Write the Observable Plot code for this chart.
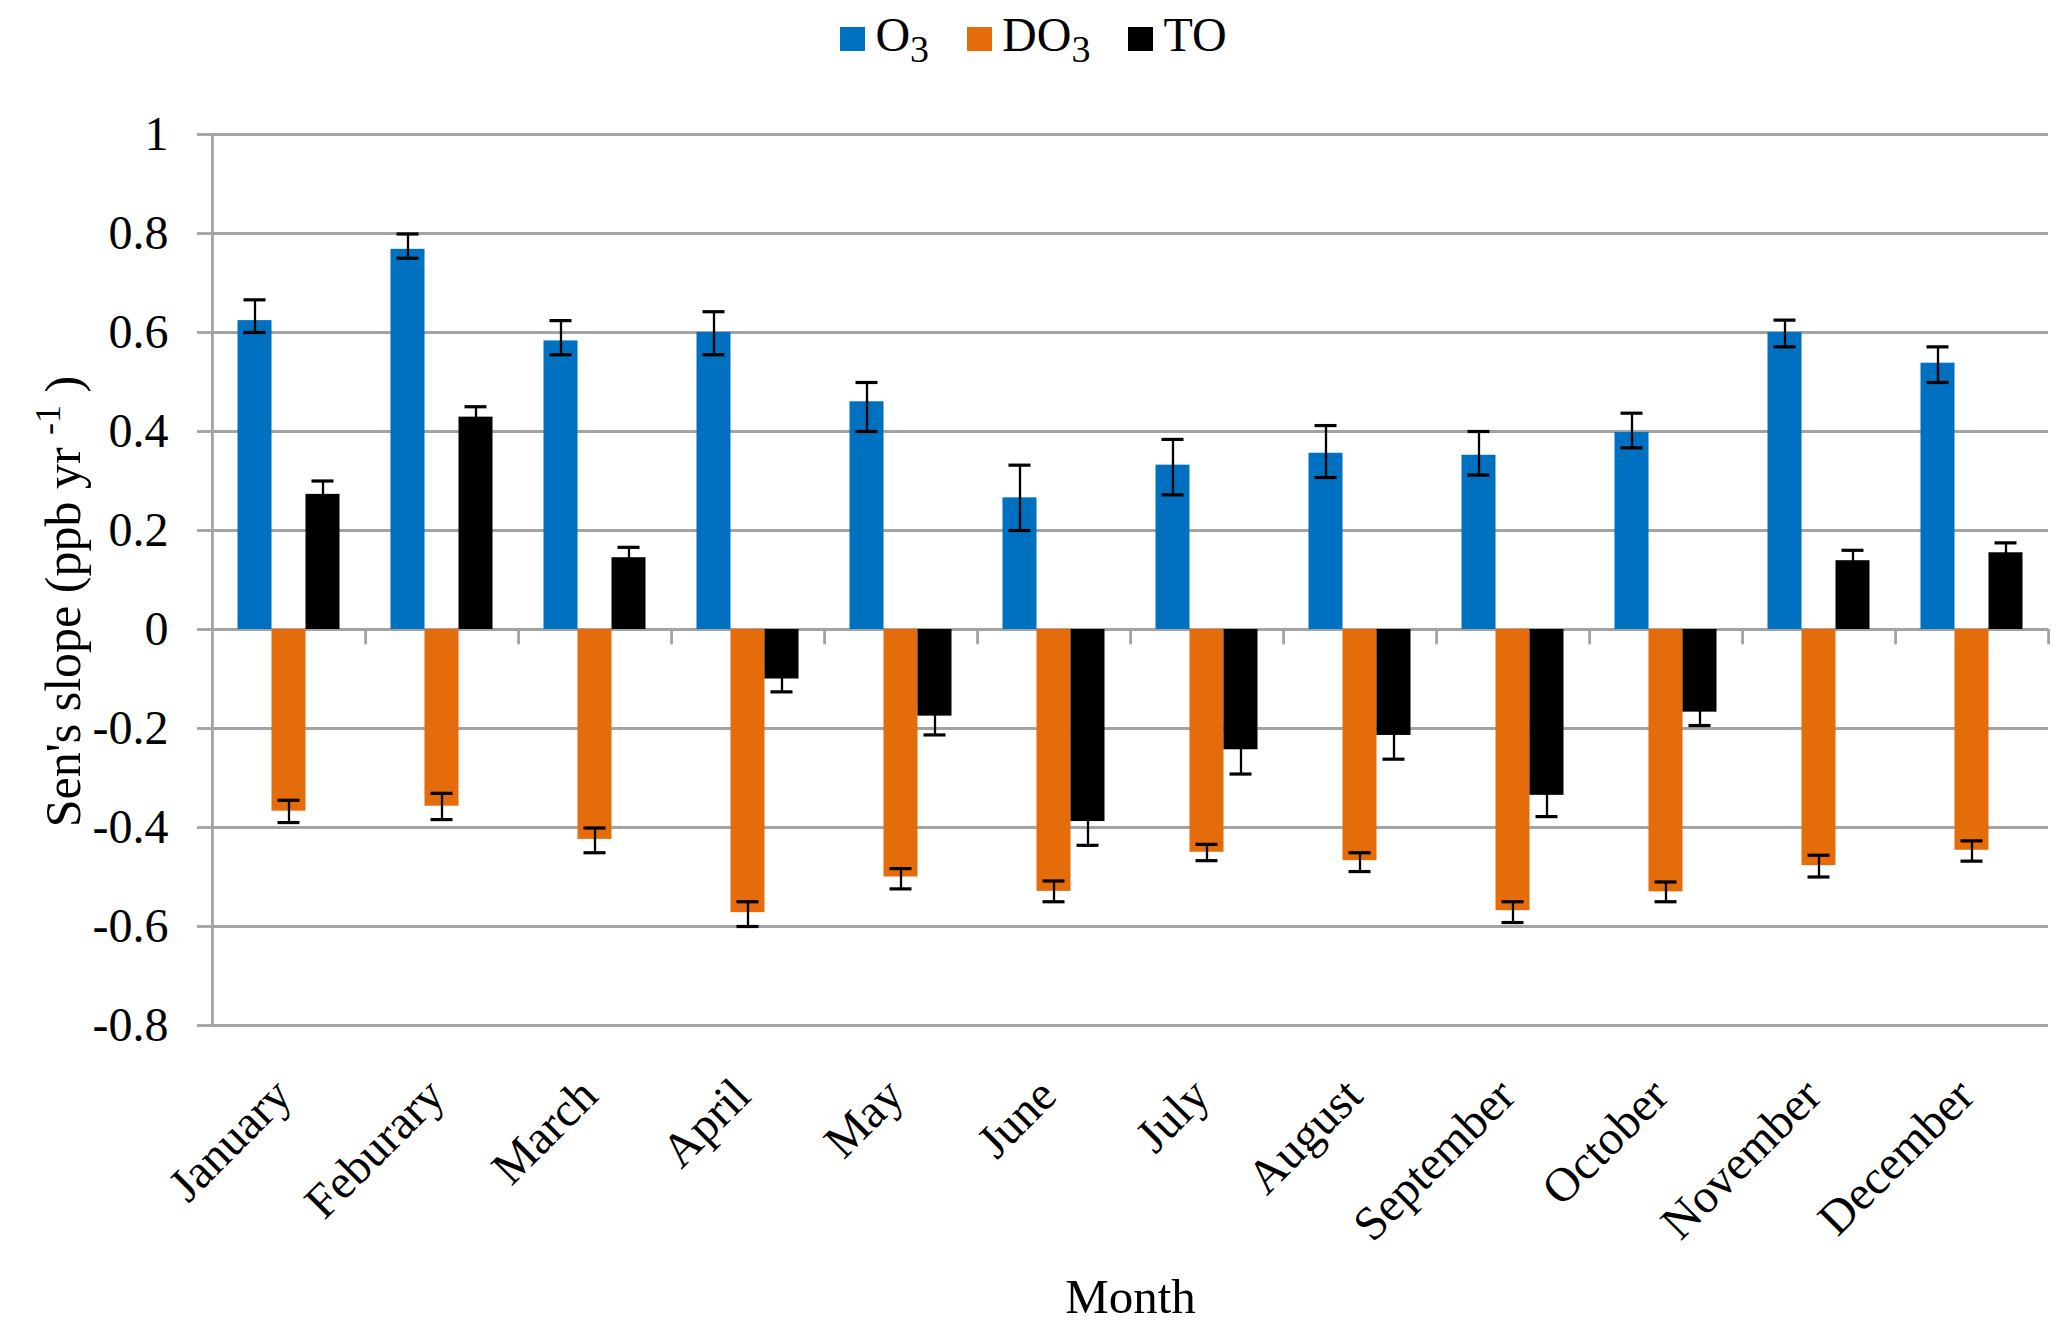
<!DOCTYPE html>
<html><head><meta charset="utf-8">
<script src="https://cdn.jsdelivr.net/npm/d3@7"></script>
<script src="https://cdn.jsdelivr.net/npm/@observablehq/plot@0.6"></script>
<style>
html,body{margin:0;padding:0;background:#fff;}
body{font-family:"Liberation Serif","Times New Roman",serif;color:#000;width:2067px;}
#legend{height:80px;box-sizing:border-box;padding-top:11px;text-align:center;font-size:48px;line-height:48px;white-space:nowrap;}
.item{display:inline-block;margin:0 19px;}
.sw{display:inline-block;width:25px;height:24px;margin-right:10px;vertical-align:baseline;}
.sub{font-size:38px;position:relative;top:11px;line-height:0;}
#chart svg{display:block;}
</style></head><body>
<div id="legend"></div>
<div id="chart"></div>
<script>
// ---- data ----
const months = ["January","Feburary","March","April","May","June","July","August","September","October","November","December"];
const series = ["O3","DO3","TO"];
const seriesColors = ["#0070C0","#E46C0A","#000000"];

const o3      = [0.624, 0.768, 0.583, 0.600, 0.460, 0.266, 0.332, 0.356, 0.352, 0.398, 0.600, 0.538];
const o3Plus  = [0.042, 0.031, 0.041, 0.042, 0.039, 0.066, 0.052, 0.056, 0.048, 0.039, 0.025, 0.033];
const o3Minus = [0.024, 0.018, 0.028, 0.045, 0.060, 0.066, 0.060, 0.049, 0.040, 0.031, 0.029, 0.039];

const do3      = [-0.367, -0.357, -0.424, -0.572, -0.500, -0.529, -0.450, -0.467, -0.568, -0.530, -0.477, -0.446];
const do3Plus  = [0.022, 0.026, 0.023, 0.022, 0.017, 0.021, 0.016, 0.016, 0.018, 0.020, 0.021, 0.019];
const do3Minus = [0.023, 0.027, 0.027, 0.028, 0.024, 0.021, 0.017, 0.022, 0.024, 0.020, 0.023, 0.022];

const to    = [0.273, 0.429, 0.145, -0.100, -0.175, -0.388, -0.243, -0.214, -0.335, -0.167, 0.139, 0.155];
const toErr = [0.027, 0.021, 0.021, 0.026, 0.038, 0.048, 0.049, 0.048, 0.043, 0.027, 0.021, 0.020];

const yTicks = [-0.8, -0.6, -0.4, -0.2, 0, 0.2, 0.4, 0.6, 0.8, 1];

// ---- table ----
const rows = months.flatMap((m, i) => [
  {month: m, series: "O3",  value: o3[i],  lo: o3[i] - o3Minus[i],   hi: o3[i] + o3Plus[i]},
  {month: m, series: "DO3", value: do3[i], lo: do3[i] - do3Minus[i], hi: do3[i] + do3Plus[i]},
  {month: m, series: "TO",  value: to[i],  lo: to[i] - toErr[i],     hi: to[i] + toErr[i]}
]);

// ---- legend ----
const legendHTML = {O3: 'O<span class="sub">3</span>', DO3: 'DO<span class="sub">3</span>', TO: 'TO'};
document.getElementById("legend").innerHTML = series.map((s, i) =>
  `<span class="item"><span class="sw" style="background:${seriesColors[i]}"></span>${legendHTML[s]}</span>`).join("");

// ---- layout ----
const W = 2067, H = 1253;
const mL = 210, mR = 17, mT = 54, mB = 308;
const facetW = (W - mL - mR) / months.length;
const xPadOuter = 0.75;
const bw = facetW / (series.length + 2 * xPadOuter);
const edge = bw * (0.5 + xPadOuter);
const grid = "#a3a3a3";
const font = "Liberation Serif";

const plot = Plot.plot({
  width: W, height: H,
  marginLeft: mL, marginRight: mR, marginTop: mT, marginBottom: mB,
  style: {fontFamily: font, fontSize: "48px", color: "black", background: "white"},
  fx: {domain: months, padding: 0, label: null},
  x: {domain: series, paddingInner: 0, paddingOuter: xPadOuter, round: false, axis: null},
  y: {domain: [-0.8, 1], label: null},
  color: {domain: series, range: seriesColors},
  marks: [
    Plot.gridY(yTicks, {stroke: grid, strokeOpacity: 1, strokeWidth: 2.8}),
    Plot.axisY({ticks: yTicks, tickSize: 15, tickPadding: 29, stroke: grid, strokeWidth: 2.8, fill: "black",
      fontSize: 48, label: null, tickFormat: d => String(+d.toFixed(1))}),
    // left axis line
    Plot.ruleX([months[0]], {fx: d => d, x: () => series[0], dx: -edge, y1: -0.8, y2: 1, stroke: grid, strokeWidth: 2.8}),
    // category separator ticks below the zero line
    Plot.ruleX(months, {fx: d => d, x: () => series[series.length - 1], dx: edge, y1: 0, y2: -0.031, stroke: grid, strokeWidth: 2.8}),
    Plot.barY(rows, {fx: "month", x: "series", y: "value", fill: "series"}),
    Plot.ruleX(rows, {fx: "month", x: "series", y1: "lo", y2: "hi", stroke: "black", strokeWidth: 2.3}),
    Plot.tickY(rows, {fx: "month", x: "series", y: "lo", stroke: "black", strokeWidth: 3.2, insetLeft: 6, insetRight: 6}),
    Plot.tickY(rows, {fx: "month", x: "series", y: "hi", stroke: "black", strokeWidth: 3.2, insetLeft: 6, insetRight: 6}),
    Plot.axisFx({anchor: "bottom", tickRotate: -45, tickSize: 0, tickPadding: 62, dx: -6, fontSize: 48, fill: "black",
      label: null}),
    Plot.axisFx({anchor: "bottom", ticks: [], tickSize: 0, fontSize: 49, fill: "black",
      label: "Month", labelAnchor: "center", labelOffset: 287, labelArrow: "none"})
  ]
});
document.getElementById("chart").appendChild(plot);

// y-axis title with superscript
const ys = plot.scale("y");
const yc = (ys.apply(1) + ys.apply(-0.8)) / 2 + 22;
const svg = d3.select(plot.tagName.toLowerCase() === "svg" ? plot : plot.querySelector("svg"));
const t = svg.append("text")
  .attr("transform", `translate(80,${yc}) rotate(-90)`)
  .attr("text-anchor", "middle")
  .attr("font-family", font).attr("font-size", 50).attr("fill", "black");
t.append("tspan").text("Sen's slope (ppb yr ");
t.append("tspan").attr("font-size", 36).attr("dy", -20).text("-1");
t.append("tspan").attr("dy", 20).text(" )");
</script>
</body></html>
